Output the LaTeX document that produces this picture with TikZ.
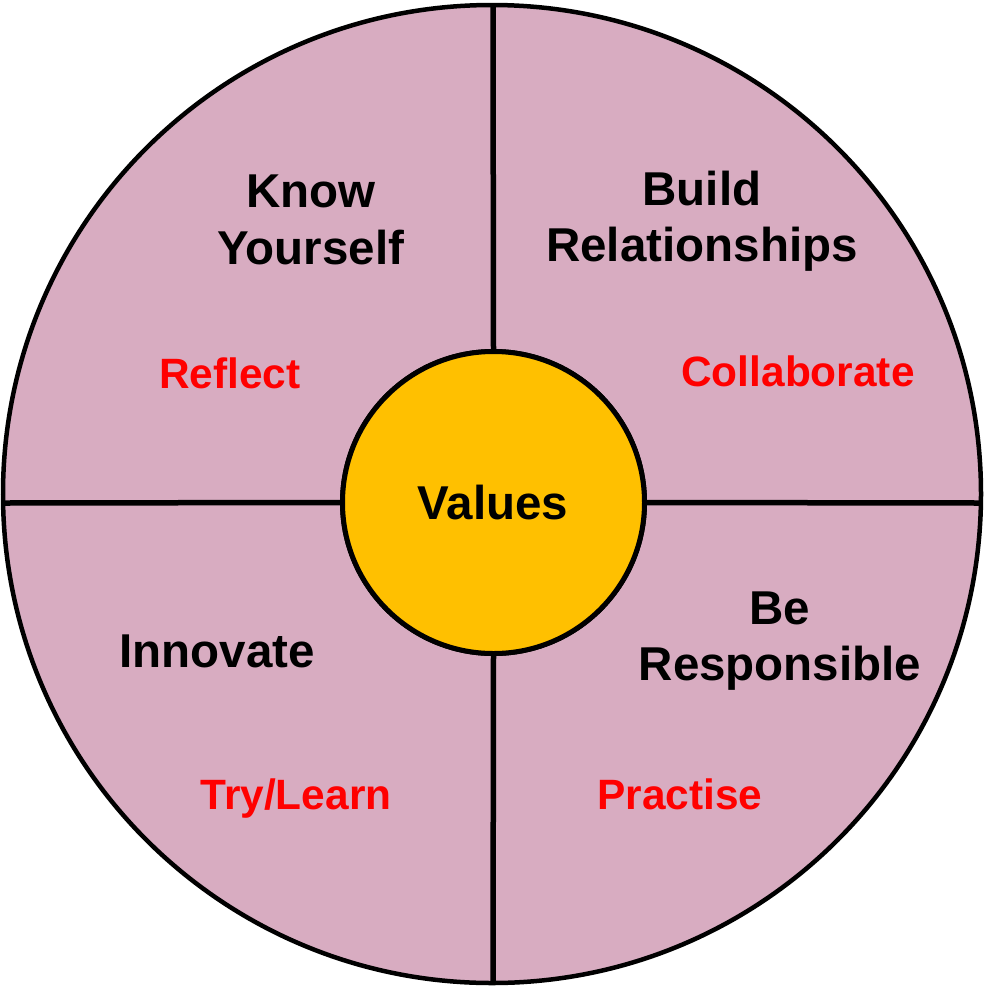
\documentclass[tikz,border=0pt]{standalone}
\usepackage{fontspec}
\setmainfont{Liberation Sans}
\definecolor{wheelpink}{RGB}{216,172,193}
\definecolor{coreyellow}{RGB}{255,192,0}
\definecolor{verbred}{RGB}{255,0,0}
\begin{document}
\begin{tikzpicture}[x=1pt,y=-1pt,
  divider/.style={line width=5.5pt},
  title/.style={font=\fontsize{47.5}{56.5}\selectfont\bfseries, text=black, align=center, inner sep=0pt},
  verb/.style={font=\fontsize{42.4}{50}\selectfont\bfseries, text=verbred, inner sep=0pt}]
\useasboundingbox (0,0) rectangle (984,989);
\node[circle, draw=black, fill=wheelpink, line width=4.5pt, minimum size=978pt, inner sep=0pt] (wheel) at (492,494) {};
\coordinate (ntop) at (493,5);
\coordinate (nbot) at (493,983);
\coordinate (nleft) at (4,503);
\coordinate (nright) at (980,503);
\node[circle, draw=black, fill=coreyellow, line width=5pt, minimum size=302pt, inner sep=0pt] (core) at (493.5,502.5) {};
\draw[divider] (ntop) -- (core.north);
\draw[divider] (nbot) -- (core.south);
\draw[divider] (nleft) -- (core.west);
\draw[divider] (nright) -- (core.east);
\node[circle, draw=black, fill=coreyellow, line width=5pt, minimum size=302pt, inner sep=0pt] at (core.center) {};
\node[title] (values) at (493,503) {Values};
\node[title] (know) at (311,220) {Know\\Yourself};
\node[title] (build) at (702,221) {Build\\Relationships};
\node[title] (innovate) at (217,651) {Innovate};
\node[title] (resp) at (780,641) {Be\\Responsible};
\node[verb] (reflect) at (230,373) {Reflect};
\node[verb] (collab) at (798,371) {Collaborate};
\node[verb] (try) at (296,799) {Try/Learn};
\node[verb] (practise) at (680,794) {Practise};
\end{tikzpicture}
\end{document}
